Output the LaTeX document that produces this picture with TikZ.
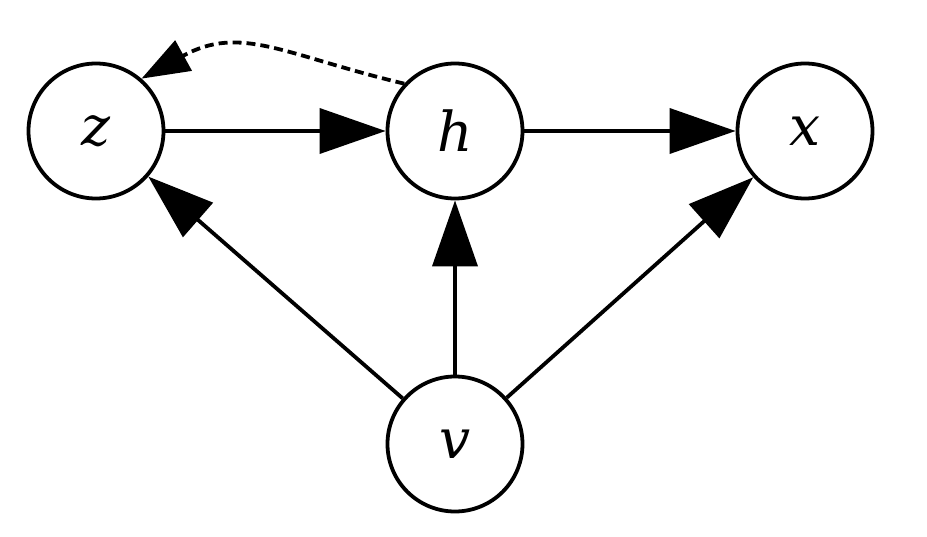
\documentclass[tikz,border=0pt]{standalone}
\usepackage{fontspec}
\setmainfont{DejaVu Serif}
\usetikzlibrary{arrows.meta}
\begin{document}
\begin{tikzpicture}[x=1pt,y=-1pt,
  var/.style={circle,draw,line width=3.8pt,minimum size=135pt,inner sep=0pt,font=\fontsize{55}{60}\selectfont\itshape},
  edge/.style={line width=3.8pt,-{Triangle[length=66pt,width=45pt]}},
  dedge/.style={line width=3.8pt,dash pattern=on 9pt off 5pt,-{Triangle[length=48pt,width=34pt]}}]
\useasboundingbox (0,0) rectangle (927,536);
\node[var] (z) at (96,131) {z};
\node[var] (h) at (455,131) {h};
\node[var] (x) at (805,131) {x};
\node[var] (v) at (455,444) {v};
\draw[edge] (z) -- (h);
\draw[edge] (h) -- (x);
\draw[edge] (v) -- (z);
\draw[edge] (v) -- (h);
\draw[edge] (v) -- (x);
\draw[dedge] (h.137) .. controls (284,55) and (241,24) .. (z.49);
\end{tikzpicture}
\end{document}
